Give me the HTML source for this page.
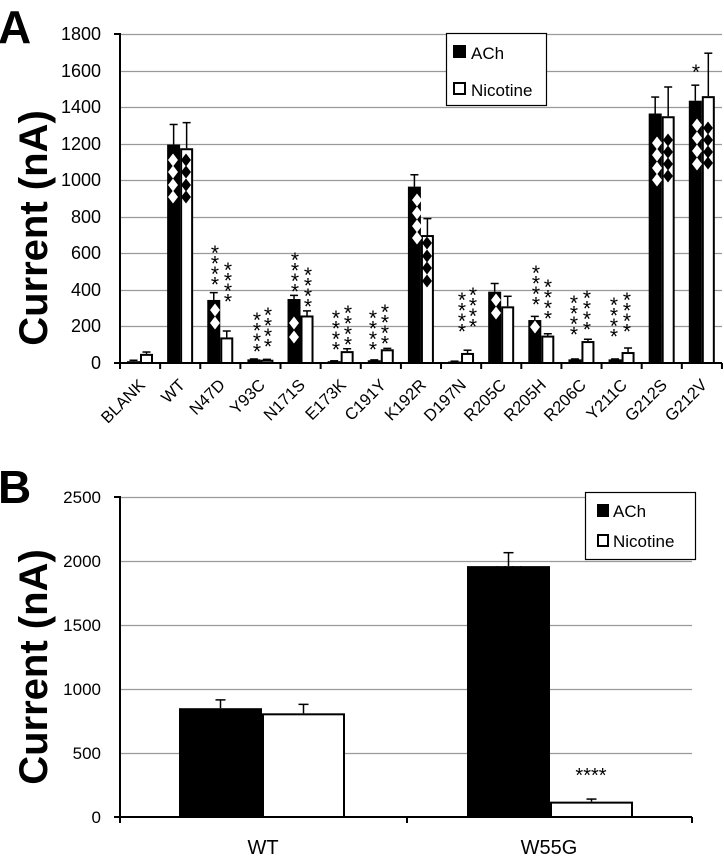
<!DOCTYPE html>
<html><head><meta charset="utf-8"><style>
html,body{margin:0;padding:0;background:#fff}
svg{display:block;font-family:"Liberation Sans",sans-serif}
</style></head><body>
<svg id="s" width="724" height="858" viewBox="0 0 724 858" xmlns="http://www.w3.org/2000/svg">
<g id="grid"></g>
<g id="bars"></g>
<text x="-2" y="43" font-size="46" font-weight="bold">A</text>
<text x="-2" y="503" font-size="46" font-weight="bold">B</text>
<text transform="translate(47,228) rotate(-90)" text-anchor="middle" font-size="40" font-weight="bold">Current (nA)</text>
<text transform="translate(47,667) rotate(-90)" text-anchor="middle" font-size="40" font-weight="bold">Current (nA)</text>
<g font-size="18" text-anchor="end">
<text x="101" y="40">1800</text><text x="101" y="77">1600</text><text x="101" y="113">1400</text>
<text x="101" y="150">1200</text><text x="101" y="186">1000</text><text x="101" y="223">800</text>
<text x="101" y="259">600</text><text x="101" y="296">400</text><text x="101" y="332">200</text>
<text x="101" y="369">0</text>
</g>
<g font-size="17" text-anchor="end">
<text x="101" y="503">2500</text><text x="101" y="567">2000</text><text x="101" y="631">1500</text>
<text x="101" y="695">1000</text><text x="101" y="759">500</text><text x="101" y="823">0</text>
</g>
<g font-size="16.5" text-anchor="end">
<text transform="translate(146,386) rotate(-45)">BLANK</text>
<text transform="translate(186,386) rotate(-45)">WT</text>
<text transform="translate(226,386) rotate(-45)">N47D</text>
<text transform="translate(266,386) rotate(-45)">Y93C</text>
<text transform="translate(306,386) rotate(-45)">N171S</text>
<text transform="translate(347,386) rotate(-45)">E173K</text>
<text transform="translate(387,386) rotate(-45)">C191Y</text>
<text transform="translate(427,386) rotate(-45)">K192R</text>
<text transform="translate(467,386) rotate(-45)">D197N</text>
<text transform="translate(507,386) rotate(-45)">R205C</text>
<text transform="translate(547,386) rotate(-45)">R205H</text>
<text transform="translate(587,386) rotate(-45)">R206C</text>
<text transform="translate(628,386) rotate(-45)">Y211C</text>
<text transform="translate(668,386) rotate(-45)">G212S</text>
<text transform="translate(708,386) rotate(-45)">G212V</text>
</g>
<g font-size="21" text-anchor="middle">
<text x="215 215 215 215" y="260 270.5 281 291.5">****</text>
<text x="228 228 228 228" y="277 287.5 298 308.5">****</text>
<text x="257 257 257 257" y="327 337.5 348 358.5">****</text>
<text x="268 268 268 268" y="322 332.5 343 353.5">****</text>
<text x="295 295 295 295" y="267 277.5 288 298.5">****</text>
<text x="308 308 308 308" y="282 292.5 303 313.5">****</text>
<text x="336 336 336 336" y="325 335.5 346 356.5">****</text>
<text x="348 348 348 348" y="320 330.5 341 351.5">****</text>
<text x="373 373 373 373" y="325 335.5 346 356.5">****</text>
<text x="385 385 385 385" y="319 329.5 340 350.5">****</text>
<text x="462 462 462 462" y="307 317.5 328 338.5">****</text>
<text x="473 473 473 473" y="302 312.5 323 333.5">****</text>
<text x="536 536 536 536" y="280 290.5 301 311.5">****</text>
<text x="548 548 548 548" y="294 304.5 315 325.5">****</text>
<text x="574 574 574 574" y="310 320.5 331 341.5">****</text>
<text x="587 587 587 587" y="305 315.5 326 336.5">****</text>
<text x="614 614 614 614" y="312 322.5 333 343.5">****</text>
<text x="627 627 627 627" y="307 317.5 328 338.5">****</text>
<text x="696" y="79">*</text>
</g>
<g font-size="20" text-anchor="middle">
<text x="509" y="580">****</text>
<text x="591" y="782">****</text>
</g>
<g font-size="20" text-anchor="middle">
<text x="263" y="854">WT</text><text x="549" y="854">W55G</text>
</g>
<rect x="446.5" y="33.5" width="100" height="72" fill="#fff" stroke="#000" stroke-width="1.2"/>
<rect x="453" y="45" width="13" height="13" fill="#000"/>
<text x="471" y="59" font-size="17">ACh</text>
<rect x="454" y="83" width="11" height="11" fill="#fff" stroke="#000" stroke-width="2"/>
<text x="471" y="96" font-size="17">Nicotine</text>
<rect x="585.5" y="492.5" width="110" height="67" fill="#fff" stroke="#000" stroke-width="1.2"/>
<rect x="597" y="504" width="12" height="13" fill="#000"/>
<text x="613" y="517" font-size="17">ACh</text>
<rect x="598" y="535" width="10" height="11" fill="#fff" stroke="#000" stroke-width="2"/>
<text x="613" y="547" font-size="17">Nicotine</text>
</svg>
<script>
(function(){
var NS="http://www.w3.org/2000/svg";
var g=document.getElementById("grid"),b=document.getElementById("bars");
function el(p,t,a){var e=document.createElementNS(NS,t);for(var k in a)e.setAttribute(k,a[k]);p.appendChild(e);return e;}
var yA=function(v){return 363-v*0.18278;};
for(var v=200;v<=1800;v+=200){var y=Math.round(yA(v))+0.5;el(g,"line",{x1:120,x2:722,y1:y,y2:y,stroke:"#999","stroke-width":1.2});}
var A=[[10,50,15,60],[1195,1175,1305,1315],[345,140,385,175],[20,18,22,20],[350,260,370,285],[10,65,12,78],[15,75,17,80],[965,700,1030,790],[8,55,10,70],[390,310,435,365],[235,150,255,160],[20,120,22,130],[20,60,22,82],[1365,1350,1455,1510],[1435,1460,1520,1695]];
var W=40.13;
A.forEach(function(d,i){
 var x0=120+W*i;
 [[0,d[0],d[2]],[1,d[1],d[3]]].forEach(function(q){
  var bx=x0+7+13*q[0],top=yA(q[1]),et=yA(q[2]),cx=bx+6.5;
  el(b,"line",{x1:cx,x2:cx,y1:top,y2:et,stroke:"#000","stroke-width":1.5});
  el(b,"line",{x1:cx-4,x2:cx+4,y1:et,y2:et,stroke:"#000","stroke-width":1.5});
  if(q[0]==0) el(b,"rect",{x:bx,y:top,width:13,height:363-top,fill:"#000"});
  else el(b,"rect",{x:bx+1,y:top+1,width:11,height:Math.max(0,362-top),fill:"#fff",stroke:"#000","stroke-width":2});
 });
});
el(b,"line",{x1:120,x2:120,y1:33,y2:363,stroke:"#000","stroke-width":2});
el(b,"line",{x1:114,x2:120,y1:34,y2:34,stroke:"#000","stroke-width":2});
el(b,"line",{x1:114,x2:722,y1:363,y2:363,stroke:"#000","stroke-width":2});
for(var i=0;i<=15;i++){var tx=120+W*i;el(b,"line",{x1:tx,x2:tx,y1:363,y2:369,stroke:"#000","stroke-width":2});}
function dia(cx,cy,f){el(b,"polygon",{points:(cx)+","+(cy-6.5)+" "+(cx+5)+","+cy+" "+(cx)+","+(cy+6.5)+" "+(cx-5)+","+cy,fill:f});}
function col(cx,ys,f){ys.forEach(function(y){dia(cx,y,f);});}
col(173,[160,172,185,197],"#fff");col(186,[160,172,185,197],"#000");
col(215,[310,323],"#fff");col(294,[323,337],"#fff");
col(417,[200,213,226,238],"#fff");col(427,[243,256,268,281],"#000");
col(496,[300,313],"#fff");col(535,[327],"#fff");
col(657,[143,155,168,180],"#fff");col(668,[140,152,164,176],"#000");
col(697,[125,138,151,164],"#fff");col(708,[128,140,152,163],"#000");
var yB=function(v){return 817-v*0.128;};
for(var v=500;v<=2500;v+=500){var y=Math.round(yB(v))+0.5;el(g,"line",{x1:120,x2:692,y1:y,y2:y,stroke:"#999","stroke-width":1.2});}
var B=[[179,850,915,0],[262,810,880,1],[467,1960,2065,0],[550,120,140,1]];
B.forEach(function(d){
 var top=yB(d[1]),et=yB(d[2]),cx=d[0]+41.5;
 el(b,"line",{x1:cx,x2:cx,y1:top,y2:et,stroke:"#000","stroke-width":1.5});
 el(b,"line",{x1:cx-5,x2:cx+5,y1:et,y2:et,stroke:"#000","stroke-width":1.5});
 if(d[3]==0) el(b,"rect",{x:d[0],y:top,width:83,height:817-top,fill:"#000"});
 else el(b,"rect",{x:d[0]+1,y:top+1,width:81,height:816-top,fill:"#fff",stroke:"#000","stroke-width":2});
});
el(b,"line",{x1:120,x2:120,y1:496,y2:817,stroke:"#000","stroke-width":2});
el(b,"line",{x1:114,x2:120,y1:497,y2:497,stroke:"#000","stroke-width":2});
el(b,"line",{x1:114,x2:692,y1:817,y2:817,stroke:"#000","stroke-width":2});
[120,407,692].forEach(function(tx){el(b,"line",{x1:tx,x2:tx,y1:817,y2:823,stroke:"#000","stroke-width":2});});
})();
</script>
</body></html>
